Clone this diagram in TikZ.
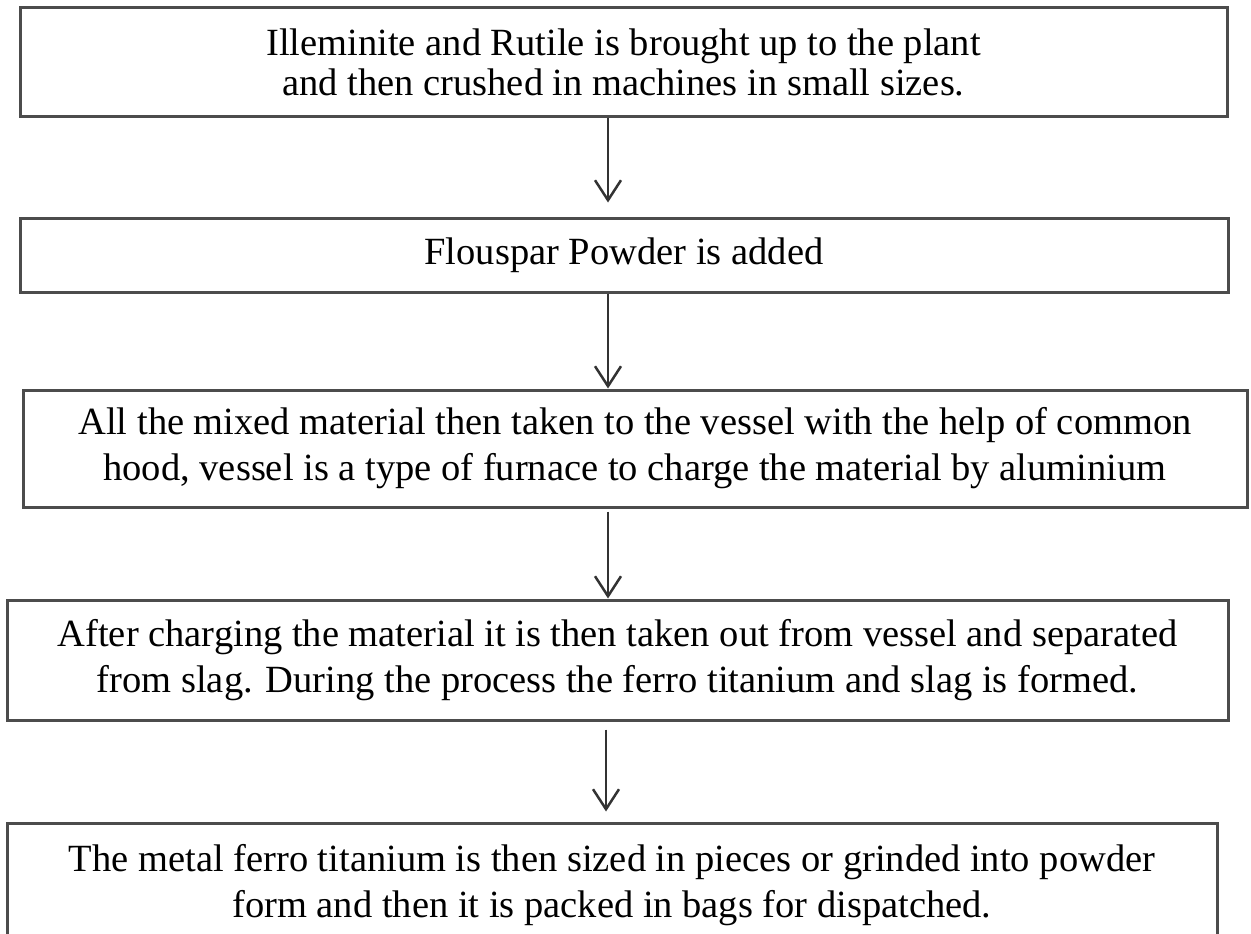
\documentclass[tikz,border=0pt]{standalone}
\usepackage{fontspec}
\setmainfont{Liberation Serif}
\usetikzlibrary{arrows.meta}

\begin{document}
\begin{tikzpicture}[x=1pt,y=-1pt,
  boite/.style={draw=black!70, line width=3pt, align=center, inner sep=0pt,
    font=\fontsize{38.5}{46}\selectfont},
  fleche/.style={-{Straight Barb[length=20pt,width=26pt,line width=2.5pt]}, line width=2.5pt, black!80}]
\useasboundingbox (0,0) rectangle (1251,934);
\clip (0,0) rectangle (1251,934);
\fill [white] (0,0) rectangle (1251,934);
\node[boite, minimum width=1207pt, minimum height=108pt] (b1) at (623.5,62) {Illeminite and Rutile is brought up to the plant\\[-6pt] and then crushed in machines in small sizes.};
\node[boite, minimum width=1208pt, minimum height=74pt] (b2) at (624,255) {Flouspar Powder is added};
\node[boite, minimum width=1224pt, minimum height=117pt] (b3) at (635,448.5) {All the mixed material then taken to the vessel with the help of common\\ hood, vessel is a type of furnace to charge the material by aluminium};
\node[boite, minimum width=1221pt, minimum height=120pt] (b4) at (617.5,660) {After charging the material it is then taken out from vessel and separated\\ from slag. During the process the ferro titanium and slag is formed.};
\node[boite, minimum width=1210pt, minimum height=124pt] (b5) at (612,885) {The metal ferro titanium is then sized in pieces or grinded into powder\\ form and then it is packed in bags for dispatched.};
\coordinate (ax) at (608,0);
\coordinate (bx) at (606,0);
\draw [fleche, shorten >=14pt] (b1.south -| ax) -- (b2.north -| ax);
\draw [fleche] (b2.south -| ax) -- (b3.north -| ax);
\draw [fleche, shorten <=3pt] (b3.south -| ax) -- (b4.north -| ax);
\draw [fleche, shorten <=8pt, shorten >=10pt] (b4.south -| bx) -- (b5.north -| bx);
\end{tikzpicture}
\end{document}
